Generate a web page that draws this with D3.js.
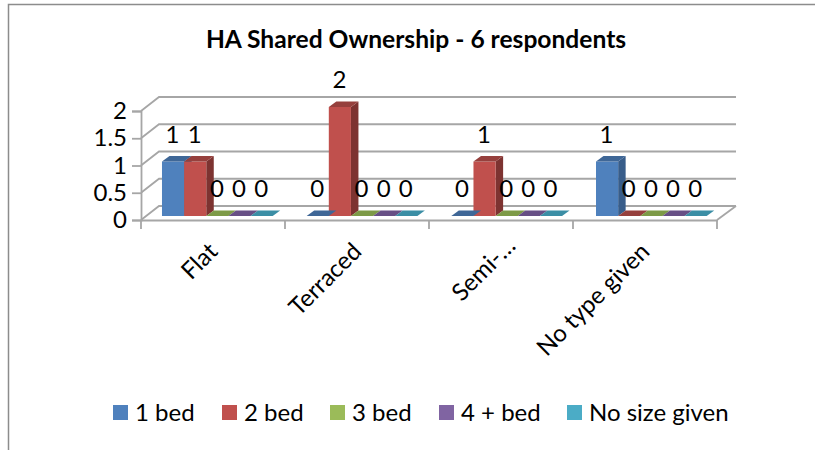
<!DOCTYPE html>
<html>
<head>
<meta charset="utf-8">
<script src="https://cdn.jsdelivr.net/npm/d3@7"></script>
<style>
  html, body { margin: 0; padding: 0; background: #fff; }
  svg { display: block; }
  text { font-family: Lato, "Open Sans", sans-serif; fill: #000; }
</style>
</head>
<body>
<div id="chart"></div>
<script>
const title = "HA Shared Ownership - 6 respondents";
const categories = ["Flat", "Terraced", "Semi-…", "No type given"];
const seriesNames = ["1 bed", "2 bed", "3 bed", "4 + bed", "No size given"];
const bed1 = [1, 0, 0, 1];
const bed2 = [1, 2, 1, 0];
const bed3 = [0, 0, 0, 0];
const bed4 = [0, 0, 0, 0];
const noSize = [0, 0, 0, 0];
const yTicks = [0, 0.5, 1, 1.5, 2];

const seriesValues = [bed1, bed2, bed3, bed4, noSize];
const front = ["#4f81bd", "#c0504d", "#9bbb59", "#8064a2", "#4bacc6"];
const side = ["#385d8a", "#7d3331", "#6f8a3c", "#5c4776", "#2f7f93"];
const topFace = ["#3f6797", "#96403d", "#7d9a47", "#674f85", "#3b8ea5"];

const svg = d3.select("#chart").append("svg").attr("width", 815).attr("height", 450);
const gridCol = "#a6a6a6";
const fontSize = 24;

// chart frame, cropped by the picture on the bottom and right
svg.append("path").attr("d", "M8.5,450V4.5H815").attr("fill", "none").attr("stroke", "#8c8c8c").attr("stroke-width", 1.5);

svg.append("text").attr("x", 416).attr("y", 48).attr("text-anchor", "middle")
  .attr("font-size", 24.6).attr("font-weight", 700).text(title);

const y = d3.scaleLinear().domain([0, 2]).range([220, 111]);
const x = d3.scaleBand().domain(categories).range([141, 717]);
// bars stand a little further back on the floor so they step slightly wider than the ticks
const xBars = d3.scaleBand().domain(categories).range([145, 723.7]);
const xSeries = d3.scaleBand().domain(seriesNames).range([0, xBars.bandwidth()]).paddingInner(0).paddingOuter(0.767);

// wall depth
const wallX = 18, wallY = -14;
// bar depth
const barX = 7.5, barY = -5.5;
const floorY = -4;

// gridlines with their return along the side wall
svg.append("g").selectAll("path").data(yTicks).join("path")
  .attr("d", d => `M141,${y(d)}l${wallX},${wallY}H736`)
  .attr("fill", "none").attr("stroke", gridCol).attr("stroke-width", 1.8);
svg.append("path").attr("d", `M736,${y(0) + wallY}L717,${y(0)}`)
  .attr("fill", "none").attr("stroke", gridCol).attr("stroke-width", 1.8);

// axes
const yAxis = svg.append("g").attr("transform", "translate(141,0)")
  .call(d3.axisLeft(y).tickValues(yTicks).tickSize(9).tickPadding(5).tickFormat(d => d));
const xAxis = svg.append("g").attr("transform", "translate(0,220)")
  .call(d3.axisBottom(x).tickValues([]).tickSize(0));
svg.append("g").selectAll("line").data(d3.range(categories.length + 1)).join("line")
  .attr("x1", i => 141 + i * x.step()).attr("x2", i => 141 + i * x.step())
  .attr("y1", 220).attr("y2", 229).attr("stroke", gridCol).attr("stroke-width", 1.8);
yAxis.selectAll("path,line").attr("stroke", gridCol).attr("stroke-width", 1.8);
xAxis.selectAll("path").attr("stroke", gridCol).attr("stroke-width", 1.8);
yAxis.selectAll("text").attr("font-size", fontSize).style("font-family", 'Lato, sans-serif').attr("fill", "#000");

// category labels (the truncated one sits further along its line in the original)
svg.append("g").selectAll("text").data(categories).join("text")
  .attr("text-anchor", "end").attr("font-size", fontSize)
  .attr("transform", d => `translate(${x(d) + x.bandwidth() / 2 + 6},253) rotate(-45)`)
  .attr("dx", d => d === "Semi-…" ? 11 : 0)
  .attr("dy", d => d === "Semi-…" ? 3 : 0)
  .text(d => d);

// flatten for drawing
const bars = [];
categories.forEach((c, ci) => seriesNames.forEach((s, si) => {
  bars.push({ cat: c, name: s, si, value: seriesValues[si][ci] });
}));
const barW = xSeries.bandwidth();
const g = svg.append("g");
const bx = d => xBars(d.cat) + xSeries(d.name);
const by = d => y(d.value) + floorY;
const base = y(0) + floorY;

g.selectAll("path.side").data(bars.filter(d => d.value > 0)).join("path").attr("class", "side")
  .attr("d", d => `M${bx(d) + barW},${by(d)}l${barX},${barY}V${base + barY}l${-barX},${-barY}Z`)
  .attr("fill", d => side[d.si]);
g.selectAll("rect.front").data(bars.filter(d => d.value > 0)).join("rect").attr("class", "front")
  .attr("x", bx).attr("y", by).attr("width", barW).attr("height", d => base - by(d))
  .attr("fill", d => front[d.si]);
g.selectAll("path.top").data(bars).join("path").attr("class", "top")
  .attr("d", d => `M${bx(d)},${by(d)}l${barX},${barY}h${barW}l${-barX},${-barY}Z`)
  .attr("fill", d => topFace[d.si]);

// value labels
svg.append("g").selectAll("text").data(bars).join("text")
  .attr("x", d => bx(d) + barW / 2 - 0.5).attr("y", d => by(d) - 19)
  .attr("text-anchor", "middle").attr("font-size", fontSize).text(d => d.value);

// legend
const legendX = d3.scaleOrdinal().domain(seriesNames).range([113, 222, 330, 439, 567]);
const legend = svg.append("g").selectAll("g").data(seriesNames).join("g")
  .attr("transform", d => `translate(${legendX(d)},405)`);
legend.append("rect").attr("width", 15).attr("height", 15).attr("fill", (d, i) => front[i]);
legend.append("text").attr("x", 22).attr("y", 16).attr("font-size", fontSize).text(d => d);
</script>
</body>
</html>
